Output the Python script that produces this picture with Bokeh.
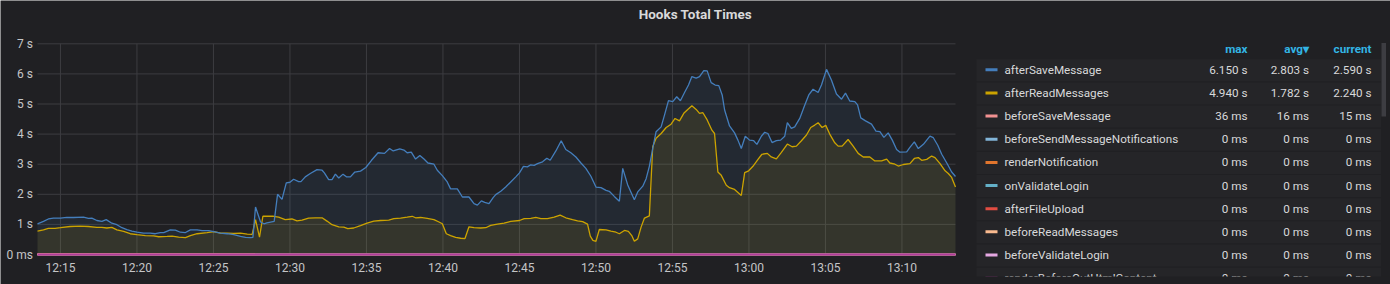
from datetime import datetime, timedelta
from bokeh.plotting import figure
from bokeh.models import Range1d, ColumnDataSource
from bokeh.embed import file_html
from bokeh.resources import INLINE
from bokeh.core.properties import value

# ---------------- data ----------------
title_text = "Hooks Total Times"
x_start = "12:13:30"
x_end = "13:13:30"
x_tick_labels = ["12:15", "12:20", "12:25", "12:30", "12:35", "12:40",
                 "12:45", "12:50", "12:55", "13:00", "13:05", "13:10"]
y_ticks = [0, 1, 2, 3, 4, 5, 6, 7]
y_tick_labels = ["0 ms", "1 s", "2 s", "3 s", "4 s", "5 s", "6 s", "7 s"]

# afterSaveMessage: minutes after 12:00 and seconds
after_save_minutes = [
    13.5, 13.89, 14.21, 14.54, 15.0, 15.41, 15.85, 16.51, 16.83, 17.05, 17.38, 17.71, 17.99,
    18.36, 18.69, 19.02, 19.34, 19.67, 20.0, 20.44, 20.87, 21.2, 21.53, 21.75, 22.18, 22.51,
    22.84, 23.17, 23.49, 23.93, 24.26, 24.69, 25.02, 25.46, 25.9, 26.33, 26.77, 27.1, 27.42,
    27.58, 27.75, 28.08, 28.3, 28.49, 28.97, 29.19, 29.48, 29.76, 30.0, 30.24, 30.57, 30.72,
    31.0, 31.33, 31.77, 32.1, 32.25, 32.53, 32.75, 32.97, 33.19, 33.47, 33.69, 33.95, 34.24,
    34.61, 34.96, 35.33, 35.76, 36.18, 36.51, 36.75, 37.18, 37.45, 37.66, 37.93, 38.21, 38.49,
    38.76, 39.02, 39.41, 39.63, 39.96, 40.28, 40.5, 40.94, 41.27, 41.7, 42.03, 42.25, 42.51,
    42.73, 43.01, 43.28, 43.45, 43.78, 44.1, 44.43, 44.76, 45.0, 45.26, 45.52, 45.74, 45.96,
    46.18, 46.51, 46.79, 47.01, 47.38, 47.73, 48.03, 48.36, 48.69, 49.02, 49.34, 49.67, 50.0,
    50.33, 50.66, 50.87, 51.2, 51.53, 51.75, 52.07, 52.51, 52.73, 53.06, 53.28, 53.49, 53.71,
    53.93, 54.26, 54.48, 54.74, 55.02, 55.28, 55.52, 55.79, 56.05, 56.27, 56.55, 56.77, 57.05,
    57.27, 57.53, 57.79, 58.03, 58.25, 58.41, 58.73, 59.06, 59.28, 59.5, 59.76, 60.04, 60.31,
    60.52, 60.81, 61.03, 61.24, 61.51, 61.79, 62.07, 62.34, 62.51, 62.77, 62.99, 63.32, 63.65,
    63.91, 64.19, 64.52, 64.74, 65.07, 65.39, 65.72, 66.05, 66.31, 66.59, 66.92, 67.1, 67.31,
    67.62, 68.01, 68.3, 68.56, 68.82, 69.1, 69.37, 69.65, 69.87, 70.31, 70.52, 70.81, 71.07,
    71.4, 71.62, 71.83, 72.05, 72.34, 72.6, 72.93, 73.25, 73.5]
after_save_seconds = [
    1.02, 1.10, 1.18, 1.21, 1.21, 1.23, 1.23, 1.24, 1.20, 1.21, 1.13, 1.10, 1.16,
    1.04, 0.99, 0.89, 0.83, 0.78, 0.74, 0.71, 0.71, 0.69, 0.73, 0.73, 0.82, 0.81,
    0.74, 0.73, 0.82, 0.82, 0.79, 0.79, 0.76, 0.71, 0.69, 0.66, 0.60, 0.57, 0.56,
    0.57, 1.58, 1.08, 1.02, 1.05, 1.10, 2.00, 1.83, 2.38, 2.40, 2.50, 2.42, 2.42,
    2.58, 2.69, 2.82, 2.80, 2.71, 2.49, 2.49, 2.67, 2.54, 2.67, 2.58, 2.58, 2.74,
    2.77, 2.89, 3.13, 3.38, 3.36, 3.52, 3.44, 3.51, 3.47, 3.38, 3.40, 3.17, 3.29,
    3.17, 3.04, 3.00, 2.80, 2.62, 2.41, 2.18, 2.18, 1.91, 1.91, 1.69, 1.64, 1.78,
    1.73, 1.69, 1.89, 1.99, 2.10, 2.24, 2.41, 2.58, 2.71, 2.93, 2.91, 2.98, 2.96,
    3.02, 3.08, 3.20, 3.13, 3.44, 3.78, 3.49, 3.38, 3.24, 3.04, 2.86, 2.60, 2.24,
    2.22, 2.13, 2.10, 1.93, 1.77, 2.86, 2.32, 1.82, 2.08, 2.27, 2.52, 2.93, 3.52,
    4.08, 4.24, 4.63, 5.11, 5.08, 5.24, 5.11, 5.38, 5.63, 5.91, 5.86, 5.91, 6.11,
    6.10, 5.71, 5.63, 5.61, 5.30, 4.80, 4.27, 4.04, 3.80, 3.52, 3.93, 3.80, 3.78,
    3.66, 3.93, 4.06, 4.02, 3.72, 3.78, 3.80, 3.93, 4.38, 4.19, 4.24, 4.52, 4.97,
    5.30, 5.49, 5.38, 5.63, 6.15, 5.80, 5.33, 5.16, 5.36, 5.10, 5.08, 4.97, 4.54,
    4.44, 4.33, 4.10, 4.08, 3.89, 4.04, 3.80, 3.49, 3.40, 3.41, 3.56, 3.74, 3.52,
    3.66, 3.80, 3.93, 3.88, 3.63, 3.33, 3.04, 2.74, 2.59]

# afterReadMessages
after_read_minutes = [
    13.5, 13.89, 14.21, 14.65, 15.0, 15.63, 16.29, 16.83, 17.38, 17.71, 18.03, 18.36, 18.69,
    19.13, 19.56, 20.0, 20.55, 21.09, 21.42, 21.97, 22.29, 22.73, 23.17, 23.49, 23.93, 24.59,
    25.02, 25.46, 25.9, 26.33, 26.77, 27.21, 27.53, 27.75, 28.01, 28.23, 28.93, 29.26, 29.69,
    30.13, 30.46, 30.79, 31.22, 31.66, 32.1, 32.42, 32.75, 33.19, 33.52, 33.78, 34.17, 34.61,
    35.04, 35.48, 35.92, 36.46, 36.79, 37.23, 37.66, 37.99, 38.21, 38.54, 38.97, 39.41, 39.74,
    39.96, 40.22, 40.5, 40.83, 41.16, 41.44, 41.7, 42.03, 42.47, 42.8, 43.12, 43.56, 44.0,
    44.43, 45.0, 45.31, 45.74, 46.07, 46.4, 46.83, 47.27, 47.66, 48.03, 48.47, 48.8, 49.13,
    49.45, 49.63, 49.8, 50.0, 50.22, 50.66, 50.98, 51.31, 51.53, 51.86, 52.12, 52.34, 52.51,
    52.73, 52.95, 53.17, 53.49, 53.71, 53.93, 54.26, 54.59, 54.91, 55.17, 55.46, 55.74, 56.0,
    56.27, 56.55, 56.77, 56.99, 57.27, 57.58, 57.75, 57.97, 58.19, 58.52, 58.73, 59.06, 59.28,
    59.5, 59.72, 59.98, 60.26, 60.59, 60.85, 61.2, 61.46, 61.79, 62.12, 62.51, 62.82, 63.1,
    63.43, 63.76, 64.04, 64.3, 64.52, 64.78, 65.02, 65.28, 65.61, 65.83, 66.09, 66.48, 66.81,
    67.14, 67.47, 67.9, 68.23, 68.67, 69.0, 69.21, 69.54, 69.76, 70.09, 70.52, 70.81, 71.07,
    71.29, 71.62, 71.94, 72.16, 72.49, 72.82, 73.03, 73.25, 73.5]
after_read_seconds = [
    0.78, 0.82, 0.87, 0.87, 0.89, 0.93, 0.94, 0.93, 0.90, 0.90, 0.88, 0.90, 0.82,
    0.77, 0.69, 0.66, 0.63, 0.62, 0.59, 0.60, 0.61, 0.58, 0.56, 0.63, 0.69, 0.73,
    0.76, 0.71, 0.71, 0.70, 0.71, 0.68, 0.67, 1.16, 0.58, 1.27, 1.27, 1.24, 1.16,
    1.18, 1.12, 1.14, 1.21, 1.22, 1.22, 1.11, 0.99, 0.92, 0.91, 0.86, 0.88, 0.96,
    1.04, 1.11, 1.13, 1.14, 1.19, 1.21, 1.24, 1.27, 1.22, 1.23, 1.20, 1.16, 1.08,
    1.02, 0.69, 0.63, 0.57, 0.54, 0.53, 0.92, 0.89, 0.88, 0.89, 0.97, 1.01, 1.04,
    1.10, 1.13, 1.19, 1.20, 1.23, 1.19, 1.19, 1.24, 1.31, 1.22, 1.16, 1.12, 1.09,
    1.01, 0.61, 0.47, 0.44, 0.83, 0.82, 0.78, 0.74, 0.69, 0.80, 0.77, 0.63, 0.44,
    0.52, 0.91, 1.21, 1.28, 3.58, 3.86, 4.02, 4.22, 4.33, 4.52, 4.44, 4.69, 4.82,
    4.94, 4.82, 4.69, 4.71, 4.47, 4.13, 4.02, 2.74, 2.63, 2.30, 2.22, 2.16, 2.06,
    1.96, 2.72, 2.78, 2.93, 3.16, 3.33, 3.36, 3.24, 3.18, 3.39, 3.67, 3.58, 3.60,
    3.78, 3.97, 4.22, 4.30, 4.38, 4.22, 4.29, 4.00, 3.71, 3.60, 3.60, 3.82, 3.60,
    3.36, 3.24, 3.24, 3.11, 3.11, 3.17, 3.04, 3.00, 2.94, 2.99, 3.02, 3.19, 3.22,
    3.13, 3.16, 3.27, 3.22, 3.02, 2.78, 2.69, 2.56, 2.24]

# series that stay at (about) zero for the whole window
flat_minutes = [13.5, 73.5]
flat_seconds = {
    "beforeSaveMessage": [0.016, 0.015],
    "other": [0.0, 0.0],
}

legend_names = ["afterSaveMessage", "afterReadMessages", "beforeSaveMessage",
                "beforeSendMessageNotifications", "renderNotification", "onValidateLogin",
                "afterFileUpload", "beforeReadMessages", "beforeValidateLogin",
                "renderBeforeOutHtmlContent"]
legend_max = ["6.150 s", "4.940 s", "36 ms", "0 ms", "0 ms", "0 ms", "0 ms", "0 ms", "0 ms", "0 ms"]
legend_avg = ["2.803 s", "1.782 s", "16 ms", "0 ms", "0 ms", "0 ms", "0 ms", "0 ms", "0 ms", "0 ms"]
legend_current = ["2.590 s", "2.240 s", "15 ms", "0 ms", "0 ms", "0 ms", "0 ms", "0 ms", "0 ms", "0 ms"]
legend_headers = ["max", "avg\u25BE", "current"]

# ---------------- styles / layout ----------------
series_colors = ["#447EBC", "#CCA300", "#F29191", "#82B5D8", "#E0752D", "#64B0C8",
                 "#E24D42", "#F9BA8F", "#E5A8E2", "#B03C9C"]
BG = "#202023"
GRID = "#3c3c40"
TEXT = "#d8d9da"
TICK_TEXT = "#c4c5c7"
FONT = "Roboto"
W, H = 1390, 284
TOP_PX = 43.3      # pixel row of the 7 s line
ZERO_PX = 254.0    # pixel row of the 0 line
FRAME_L, FRAME_R = 37, 955   # pixel columns of the plot area

day = datetime(2020, 6, 1)


def at_minutes(m):
    return day + timedelta(hours=12, minutes=m)


def at_clock(s):
    parts = [int(v) for v in s.split(":")]
    while len(parts) < 3:
        parts.append(0)
    return day + timedelta(hours=parts[0], minutes=parts[1], seconds=parts[2])


y_max = y_ticks[-1]
px_per_unit = (ZERO_PX - TOP_PX) / y_max
y_lo = -(H - ZERO_PX) / px_per_unit
y_hi = y_max + TOP_PX / px_per_unit
t0, t1 = at_clock(x_start), at_clock(x_end)


def y_at_px(py):
    return (ZERO_PX - py) / px_per_unit


def t_at_px(px):
    return t0 + (t1 - t0) * ((px - FRAME_L) / (FRAME_R - FRAME_L))


# one canvas-wide frame: data ranges for the chart, pixel ranges for the legend panel
p = figure(width=W, height=H, x_axis_type="datetime", output_backend="svg",
           toolbar_location=None, title=None, min_border_left=0, min_border_right=0,
           min_border_top=0, min_border_bottom=0, x_axis_location=None, y_axis_location=None,
           x_range=Range1d(t_at_px(0), t_at_px(W)), y_range=Range1d(y_lo, y_hi))
p.extra_x_ranges = {"px": Range1d(0, W)}
p.extra_y_ranges = {"py": Range1d(H, 0)}
p.background_fill_color = BG
p.border_fill_color = BG
p.outline_line_color = None
p.grid.visible = False

# ---------------- chart ----------------
x_tick_times = [at_clock(s) for s in x_tick_labels]
p.segment(x0=x_tick_times, x1=x_tick_times, y0=0, y1=y_max, line_color=GRID, line_width=1)
p.segment(x0=t0, x1=t1, y0=y_ticks, y1=y_ticks, line_color=GRID, line_width=1)

src_save = ColumnDataSource(dict(t=[at_minutes(m) for m in after_save_minutes], v=after_save_seconds))
src_read = ColumnDataSource(dict(t=[at_minutes(m) for m in after_read_minutes], v=after_read_seconds))

p.varea(x="t", y1=0, y2="v", source=src_save, fill_color=series_colors[0], fill_alpha=0.1)
p.varea(x="t", y1=0, y2="v", source=src_read, fill_color=series_colors[1], fill_alpha=0.1)

flat_t = [at_minutes(m) for m in flat_minutes]
for i in range(3, 9):
    p.line(flat_t, flat_seconds["other"], line_color=series_colors[i], line_width=1.3)
p.line(flat_t, flat_seconds["beforeSaveMessage"], line_color=series_colors[2], line_width=1.3)
p.line(flat_t, flat_seconds["other"], line_color=series_colors[9], line_width=2)

p.line(x="t", y="v", source=src_read, line_color=series_colors[1], line_width=1.3)
p.line(x="t", y="v", source=src_save, line_color=series_colors[0], line_width=1.3)

# tick labels
p.text(x=[32.5] * len(y_ticks), y=y_ticks, text=y_tick_labels, x_range_name="px",
       text_align="right", text_baseline="middle", text_color=TICK_TEXT,
       text_font=value(FONT), text_font_size="12px")
p.text(x=x_tick_times, y=[y_at_px(267)] * len(x_tick_times), text=x_tick_labels,
       text_align="center", text_baseline="middle", text_color=TICK_TEXT,
       text_font=value(FONT), text_font_size="12px")

# panel title, centred over the whole panel
p.text(x=[W / 2], y=[13], text=[title_text], x_range_name="px", y_range_name="py",
       text_align="center", text_baseline="middle", text_color=TEXT, text_font=value(FONT),
       text_font_size="13.5px", text_font_style="bold")

# ---------------- legend table ----------------
px = dict(x_range_name="px", y_range_name="py")
row_y = [69.3 + 23.15 * i for i in range(len(legend_names))]
p.quad(left=976, right=1380.5, top=[y - 10.5 for y in row_y], bottom=[y + 11.5 for y in row_y],
       fill_color="#252528", line_color=None, **px)
p.quad(left=985, right=997, top=[y - 1.5 for y in row_y], bottom=[y + 1.5 for y in row_y],
       fill_color=series_colors[:len(row_y)], line_color=None, **px)

leg = ColumnDataSource(dict(y=row_y, name=legend_names, mx=legend_max, av=legend_avg, cu=legend_current))
common = dict(text_font=value(FONT), text_font_size="11.7px", text_color=TEXT,
              text_baseline="middle", source=leg, **px)
p.text(x=1004, y="y", text="name", text_align="left", **common)
p.text(x=1247, y="y", text="mx", text_align="right", **common)
p.text(x=1308.5, y="y", text="av", text_align="right", **common)
p.text(x=1371, y="y", text="cu", text_align="right", **common)

p.text(x=[1247, 1308.5, 1371], y=[48.3] * 3, text=legend_headers, text_align="right",
       text_baseline="middle", text_font=value(FONT), text_font_size="11.7px",
       text_color="#33b5e5", text_font_style="bold", **px)

# the legend list is cut off at the bottom of the panel
p.quad(left=960, right=W, top=276, bottom=H, fill_color=BG, line_color=None, **px)

# scrollbar
p.quad(left=1381, right=1385.5, top=42.5, bottom=116, fill_color="#3d3d42", line_color=None, **px)

open("out.html", "w").write(file_html(p, INLINE))
